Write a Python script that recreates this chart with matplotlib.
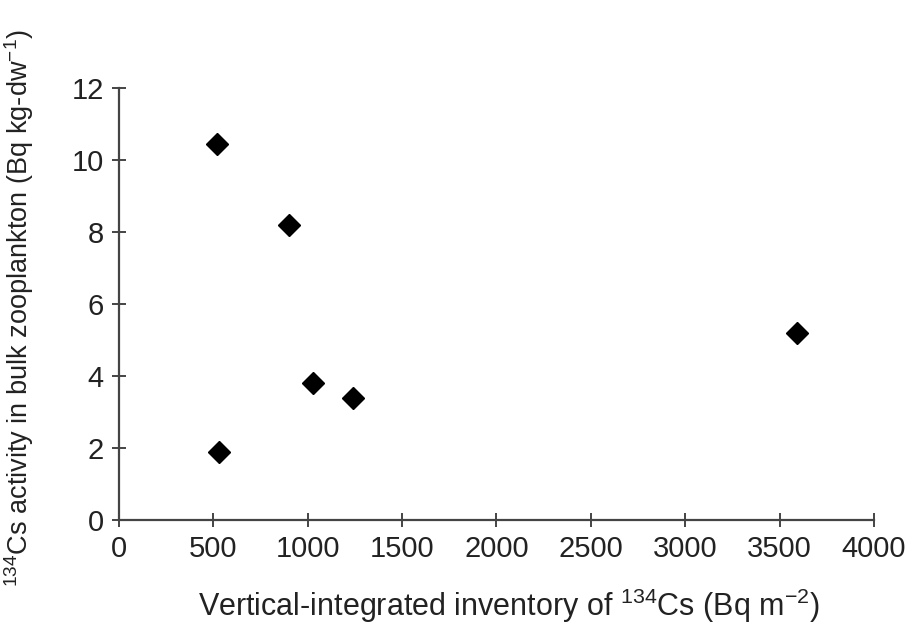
import numpy as np
import matplotlib.pyplot as plt

# Datos
inventario = [520, 900, 1030, 1240, 530, 3590]   # Bq m-2
actividad = [10.45, 8.2, 3.8, 3.4, 1.9, 5.2]      # Bq kg-dw-1
xticks = [0, 500, 1000, 1500, 2000, 2500, 3000, 3500, 4000]
yticks = [0, 2, 4, 6, 8, 10, 12]

plt.rcParams['font.family'] = ['Liberation Sans', 'DejaVu Sans']
plt.rcParams['mathtext.fontset'] = 'custom'
plt.rcParams['mathtext.rm'] = 'Liberation Sans'
plt.rcParams['mathtext.it'] = 'Liberation Sans'

fig = plt.figure(figsize=(9.12, 6.35), dpi=100)
ax = fig.add_axes([119 / 912, 1 - 520 / 635, (874 - 119) / 912, (520 - 88) / 635])

ax.plot(inventario, actividad, linestyle="none", marker="D", markersize=11.5,
        color="black")

ax.set_xlim(0, 4000)
ax.set_ylim(0, 12)
ax.set_xticks(xticks)
ax.set_yticks(yticks)

for s in ["top", "right"]:
    ax.spines[s].set_visible(False)
for s in ["left", "bottom"]:
    ax.spines[s].set_color("#444444")
    ax.spines[s].set_linewidth(1.6)

ax.tick_params(direction="inout", length=10, width=1.4, color="#444444",
               labelsize=21, labelcolor="#222222", pad=6)

ax.set_xlabel(r"Vertical-integrated inventory of $^{134}$Cs (Bq m$^{-2}$)",
              fontsize=22, color="#222222")
ax.set_ylabel(r"$^{134}$Cs activity in bulk zooplankton (Bq kg-dw$^{-1}$)",
              fontsize=19.5, color="#222222")
ax.xaxis.set_label_coords(0.517, -0.155)
ax.yaxis.set_label_coords(-0.11, 0.49)

fig.savefig("out.png", dpi=100)
